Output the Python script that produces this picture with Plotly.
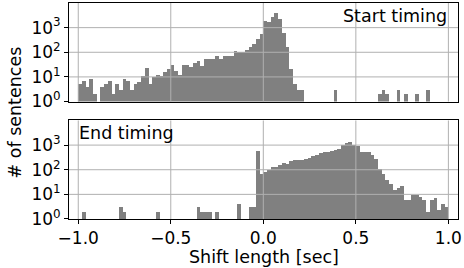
import numpy as np
import plotly.graph_objects as go
from plotly.subplots import make_subplots

# ---- data (counts per 0.02-sec bin, -1.0 .. 1.0) ----
bin_edges = np.linspace(-1.0, 1.0, 101)

start_counts = [
    5, 7, 4, 8, 2, 0, 4, 5, 7, 2,
    5, 3, 8, 7, 3, 5, 6, 11, 24, 5,
    10, 12, 11, 16, 20, 31, 18, 12, 31, 31,
    26, 38, 45, 29, 52, 52, 52, 73, 52, 73,
    73, 73, 117, 106, 106, 128, 170, 212, 350, 576,
    1850, 1630, 2600, 3800, 2300, 610, 170, 20, 5, 3,
    3, 0, 0, 0, 0, 0, 0, 0, 0, 3,
    0, 0, 0, 0, 0, 0, 0, 0, 0, 0,
    0, 2, 3, 2, 0, 0, 3, 0, 2, 0,
    0, 2, 0, 0, 3, 0, 0, 0, 0, 0,
]

end_counts = [
    0, 2, 0, 0, 0, 0, 0, 0, 0, 0,
    0, 3, 2, 0, 0, 0, 0, 0, 0, 0,
    0, 2, 0, 0, 0, 0, 0, 0, 0, 0,
    0, 0, 3, 2, 2, 2, 0, 2, 0, 0,
    0, 0, 0, 4, 0, 0, 3, 3, 590, 65,
    78, 100, 132, 124, 155, 186, 170, 230, 246, 246,
    260, 270, 296, 370, 390, 475, 537, 537, 590, 627,
    710, 1000, 1200, 1370, 1000, 935, 537, 537, 537, 390,
    270, 106, 67, 38, 26, 14.5, 17.5, 22, 6, 6,
    9, 9, 8, 6, 2, 6, 7, 2.4, 4, 3,
]

panel_labels = ["Start timing", "End timing"]
x_tick_vals = [-1.0, -0.5, 0.0, 0.5, 1.0]
x_tick_text = ["\u22121.0", "\u22120.5", "0.0", "0.5", "1.0"]
y_tick_vals = [1, 10, 100, 1000]
y_tick_text = ["10<sup>0</sup>", "10<sup>1</sup>", "10<sup>2</sup>", "10<sup>3</sup>"]

# ---- figure ----
centers = (bin_edges[:-1] + bin_edges[1:]) / 2
width = bin_edges[1] - bin_edges[0]

FONT = "DejaVu Sans"
BAR = "#808080"
GRID = "#b0b0b0"

fig = make_subplots(rows=2, cols=1, shared_xaxes=True, vertical_spacing=19 / 217)

for r, counts in enumerate([start_counts, end_counts], start=1):
    fig.add_trace(go.Bar(x=centers, y=counts, width=width, marker=dict(color=BAR, line=dict(width=0)),
                         showlegend=False, hoverinfo="skip"), row=r, col=1)

XR = [-1.05, 1.052]
YR = [0, 4]
for r in (1, 2):
    fig.update_xaxes(range=XR, tickvals=x_tick_vals, ticktext=x_tick_text, showgrid=False,
                     showline=True, linecolor="black", linewidth=1, mirror=True,
                     ticks="outside" if r == 2 else "", ticklen=4, tickcolor="black",
                     showticklabels=(r == 2), tickfont=dict(family=FONT, size=17, color="black"),
                     zeroline=False, row=r, col=1)
    fig.update_yaxes(type="log", range=YR, tickvals=y_tick_vals, ticktext=y_tick_text, showgrid=False,
                     showline=True, linecolor="black", linewidth=1, mirror=True,
                     ticks="outside", ticklen=4, tickcolor="black",
                     tickfont=dict(family=FONT, size=17, color="black"),
                     zeroline=False, row=r, col=1)
    # grid lines drawn above the bars (matplotlib style)
    xa = "x" if r == 1 else "x2"
    ya = "y" if r == 1 else "y2"
    for xv in x_tick_vals:
        fig.add_shape(type="line", xref=xa, yref=ya + " domain", x0=xv, x1=xv, y0=0, y1=1,
                      line=dict(color=GRID, width=1), layer="above")
    for yv in y_tick_vals:
        ly = float(np.log10(yv))
        if YR[0] < ly < YR[1]:
            fig.add_shape(type="line", xref=xa + " domain", yref=ya, x0=0, x1=1, y0=yv, y1=yv,
                          line=dict(color=GRID, width=1), layer="above")

fig.add_annotation(text=panel_labels[0], xref="x domain", yref="y domain", x=1, y=1,
                   xanchor="right", yanchor="top", xshift=-9, yshift=-1, showarrow=False,
                   font=dict(family=FONT, size=17.5, color="black"))
fig.add_annotation(text=panel_labels[1], xref="x2 domain", yref="y2 domain", x=0, y=1,
                   xanchor="left", yanchor="top", xshift=8, yshift=-1, showarrow=False,
                   font=dict(family=FONT, size=17.5, color="black"))

fig.add_annotation(text="Shift length [sec]", xref="x2 domain", yref="paper", x=0.5, y=0,
                   xanchor="center", yanchor="top", yshift=-26, showarrow=False,
                   font=dict(family=FONT, size=17.5, color="black"))
fig.add_annotation(text="# of sentences", xref="paper", yref="paper", x=0, y=0.493,
                   xanchor="center", yanchor="middle", xshift=-54, textangle=-90, showarrow=False,
                   font=dict(family=FONT, size=17.5, color="black"))

fig.update_layout(width=464, height=268, margin=dict(l=69, r=4, t=2, b=49),
                  paper_bgcolor="white", plot_bgcolor="white", bargap=0,
                  font=dict(family=FONT, color="black"), hovermode=False)

fig.write_html("out.html", config={"displayModeBar": False, "staticPlot": True},
               post_script="document.body.style.margin='0';document.body.style.overflow='hidden';")
